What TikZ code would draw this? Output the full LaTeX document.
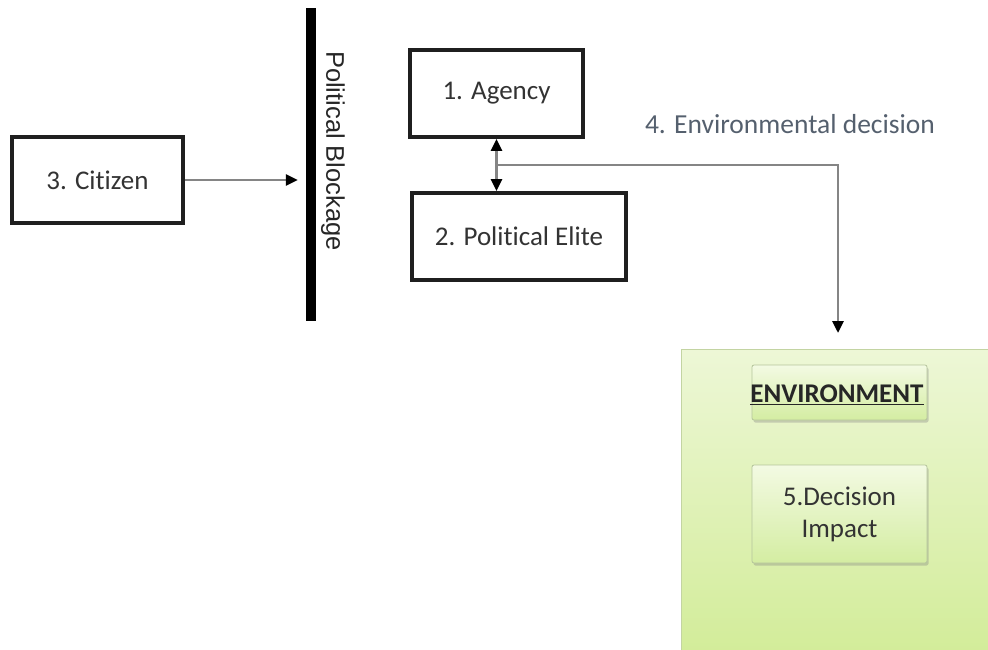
\documentclass[tikz,border=0pt]{standalone}
\usepackage{fontspec}
\setmainfont[Ligatures=NoCommon]{Carlito}
\newfontfamily\arialf{Liberation Sans}
\usetikzlibrary{arrows.meta,shadows}
\definecolor{boxtext}{HTML}{333333}
\definecolor{slate}{HTML}{55606E}
\definecolor{conngray}{HTML}{858585}
\definecolor{gtop}{HTML}{EDF7D6}
\definecolor{gbot}{HTML}{D2EC98}
\definecolor{gborder}{HTML}{C3D4A2}
\definecolor{itop}{HTML}{F3FAE3}
\definecolor{ibot}{HTML}{D4EDA2}
\definecolor{iborder}{HTML}{B5C59C}
\begin{document}
\begin{tikzpicture}[x=1pt,y=-1pt,
  plainbox/.style={draw=black!88,line width=3.8pt,fill=white,inner sep=0pt,
    text=boxtext,font=\fontsize{27}{32}\selectfont},
  conn/.style={draw=conngray,line width=2.8pt},
  tip/.style={-{Triangle[length=12pt,width=11pt,color=black]}},
  innerbox/.style={draw=iborder,line width=0.8pt,rounded corners=2pt,
    top color=itop,bottom color=ibot,inner sep=0pt,
    drop shadow={shadow xshift=1.5pt,shadow yshift=-2.5pt,opacity=0.35}},
  ]
\useasboundingbox (0,0) rectangle (988,649);
% nodes
\node[plainbox,minimum width=171pt,minimum height=86pt] (citizen) at (97.5,180) {3. Citizen};
\node[fill=black,inner sep=0pt,minimum width=10pt,minimum height=313pt] (bar) at (311,164.5) {};
\node[rotate=-90,font=\arialf\fontsize{25.5}{30}\selectfont,text=black!85,inner sep=0pt] (blocklabel) at (333,151) {Political Blockage};
\node[plainbox,minimum width=173pt,minimum height=87pt] (agency) at (496.5,93.5) {1. Agency};
\node[plainbox,minimum width=214pt,minimum height=87pt] (elite) at (519,236.5) {2. Political Elite};
\node[text=slate,font=\fontsize{27.5}{32}\selectfont,inner sep=0pt] (declabel) at (790,124) {4. Environmental decision};
% green environment
\node[draw=gborder,line width=1.2pt,top color=gtop,bottom color=gbot,inner sep=0pt,
  minimum width=320pt,minimum height=310pt,anchor=north west] (green) at (681,349) {};
\node[innerbox,minimum width=175pt,minimum height=55pt] (envbox) at (839.5,392.5) {};
\node[font=\bfseries\fontsize{27}{32}\selectfont,text=black!85,inner sep=0pt] (envtext) at (837,395) {\underline{ENVIRONMENT}};
\node[innerbox,minimum width=175pt,minimum height=98pt,align=center,
  font=\fontsize{27}{32}\selectfont,text=boxtext] (impact) at (839.5,514) {5.Decision\\Impact};
% connectors
\coordinate (j) at (agency.south |- 0,165);
\coordinate (ed) at (838,333);
\draw[conn,tip,shorten >=8pt] (citizen.east) -- (citizen.east -| bar.west);
\draw[conn,{Triangle[length=12pt,width=11pt,color=black]}-{Triangle[length=12pt,width=11pt,color=black]}]
  (agency.south) -- (agency.south |- elite.north);
\draw[conn,tip] (j) -| (ed);
\end{tikzpicture}
\end{document}
